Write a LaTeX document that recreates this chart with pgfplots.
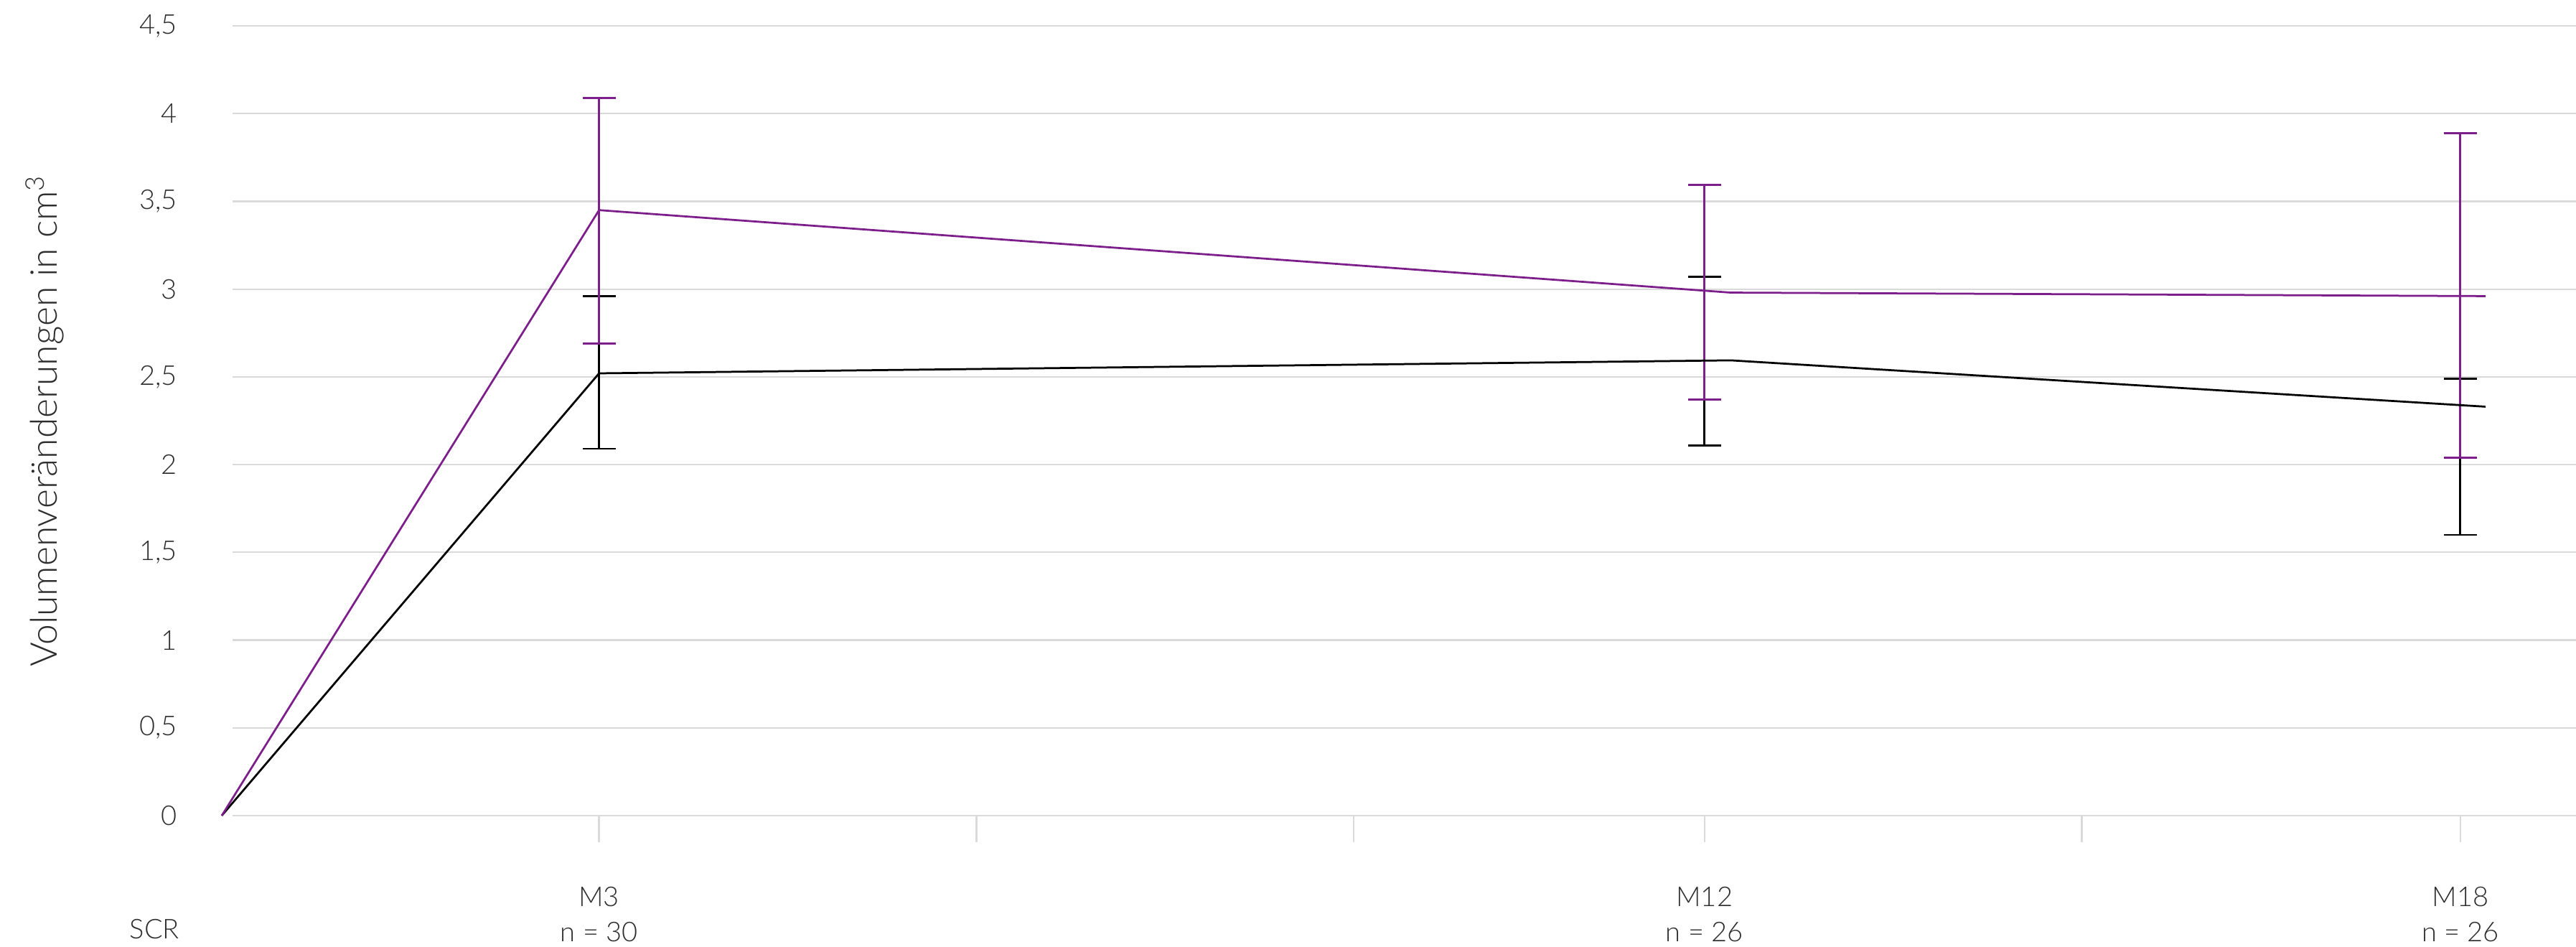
\documentclass[border=0pt]{standalone}
\usepackage{fontspec}
\setmainfont{Lato}[UprightFont=* Light]
\usepackage{pgfplots}
\pgfplotsset{compat=1.18}
\definecolor{lila}{RGB}{125,31,138}
\definecolor{gridgray}{RGB}{218,218,218}
\definecolor{txt}{RGB}{45,45,45}
\begin{document}
\begin{tikzpicture}
\begin{axis}[
  scale only axis, width=653pt, height=220pt,
  xmin=0.0856, xmax=18.72, ymin=0, ymax=4.5,
  clip=false,
  axis line style={draw=none},
  ytick={0,0.5,1,1.5,2,2.5,3,3.5,4,4.5},
  yticklabels={0,{0,5},1,{1,5},2,{2,5},3,{3,5},4,{4,5}},
  ymajorgrids, grid style={gridgray, line width=0.45pt},
  ytick pos=left, xtick pos=bottom,
  ytick style={draw=none},
  xtick={3,6,9,11.79,14.79,17.8},
  xticklabels={{M3\\n = 30},{},{},{M12\\n = 26},{},{M18\\n = 26}},
  tick align=inside, major tick length=7.5pt,
  xtick style={gridgray, line width=0.5pt, yshift=-7.5pt},
  xticklabel style={align=center, font=\fontsize{7.6}{9.8}\selectfont, text=txt, yshift=-16.4pt},
  yticklabel style={font=\fontsize{7.6}{9}\selectfont, text=txt, xshift=-11.9pt},
]
% error bars (black first, then purple)
\addplot[draw=none, mark=none, forget plot,
  error bars/.cd, y dir=both, y explicit,
  error bar style={draw=black, line width=0.55pt},
  error mark options={rotate=90, draw=black, mark size=4.6pt, line width=0.55pt}]
  coordinates {(3,2.52) += (0,0.44) -= (0,0.43)
               (11.79,2.59) += (0,0.48) -= (0,0.48)
               (17.8,2.33) += (0,0.16) -= (0,0.73)};
\addplot[draw=none, mark=none, forget plot,
  error bars/.cd, y dir=both, y explicit,
  error bar style={draw=lila, line width=0.55pt},
  error mark options={rotate=90, draw=lila, mark size=4.6pt, line width=0.55pt}]
  coordinates {(3,3.45) += (0,0.64) -= (0,0.76)
               (11.79,2.98) += (0,0.615) -= (0,0.61)
               (17.8,2.96) += (0,0.927) -= (0,0.92)};
% mean lines
\addplot[black, line width=0.55pt, mark=none] coordinates {(0,0) (3,2.52) (12,2.594) (18,2.33)};
\addplot[lila, line width=0.55pt, mark=none] coordinates {(0,0) (3,3.45) (12,2.98) (18,2.96)};
\node[anchor=base east, inner sep=0pt, font=\fontsize{7.6}{9}\selectfont, text=txt]
  at ([xshift=-14.6pt, yshift=-34.4pt]rel axis cs:0,0) {SCR};
\node[rotate=90, anchor=base, inner sep=0pt, font=\fontsize{10.3}{12}\selectfont, text=txt]
  at ([xshift=-48.8pt]rel axis cs:0,0.5) {Volumenveränderungen in cm\textsuperscript{3}};
\end{axis}
\pgfresetboundingbox
\path (-64.8pt,-36.6pt) rectangle (653pt,227.2pt);
\end{tikzpicture}
\end{document}
